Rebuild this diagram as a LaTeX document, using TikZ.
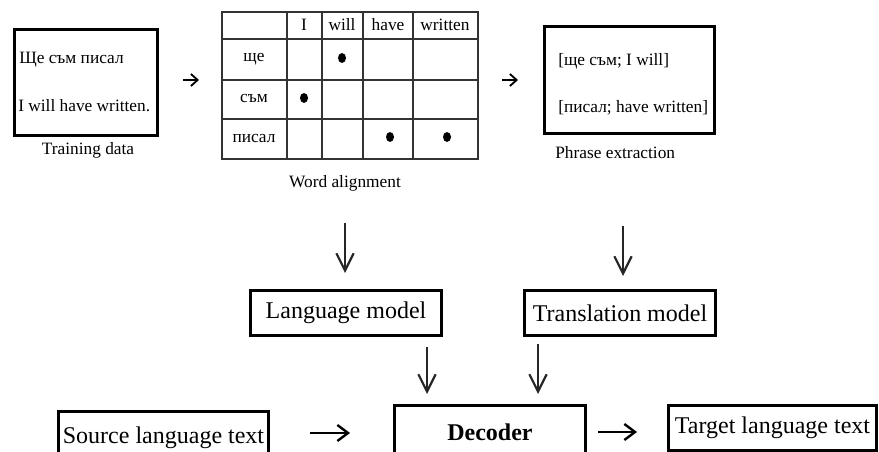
\documentclass[tikz,border=0pt]{standalone}
\usepackage{fontspec}
\setmainfont{Liberation Serif}
\usetikzlibrary{arrows.meta}
\begin{document}
\begin{tikzpicture}[x=0.75pt,y=-0.75pt,
  thickbox/.style={draw=black, line width=2.6pt, fill=white, inner sep=0pt},
  midbox/.style={draw=black, line width=2pt, fill=white, inner sep=0pt},
  small/.style={font=\fontsize{13}{15}\selectfont, inner sep=0pt},
  big/.style={font=\fontsize{18}{21}\selectfont, inner sep=0pt},
  grid/.style={draw=black!80, line width=1.3pt},
  dot/.style={fill=black, ellipse=none, inner sep=0pt},
  tinyarr/.style={line width=2pt, -{Straight Barb[length=5pt,width=9pt,line width=1.4pt]}},
  downarr/.style={line width=1.8pt, draw=black!85, -{Straight Barb[length=13pt,width=13pt,line width=1.6pt]}},
  horarr/.style={line width=2.2pt, -{Straight Barb[length=8pt,width=12pt,line width=1.8pt]}}
]
\useasboundingbox (0,0) rectangle (879,452);
\clip (0,0) rectangle (879,452);
\fill[white] (0,0) rectangle (879,452);

% Training data
\node[thickbox, minimum width=107.25pt, minimum height=79.5pt] (train) at (86,82.5) {};
\node[small, anchor=west] (train1) at (19,60) {Ще съм писал};
\node[small, anchor=west] (train2) at (18,106) {I will have written.};
\node[small] (trainlbl) at (88,150) {Training data};

% arrow 1
\coordinate (a1s) at (183,80);
\coordinate (a1e) at (199,80);
\draw[tinyarr] (a1s) -- (a1e);

% Table
\node[grid, minimum width=192pt, minimum height=110.25pt, inner sep=0pt] (tbl) at (350,85.5) {};
\foreach \xx in {287,322,363,413} \draw[grid] (\xx,12) -- (\xx,159);
\foreach \yy in {39,80,119} \draw[grid] (222,\yy) -- (478,\yy);
\node[small] (hI) at (304,25) {I};
\node[small] (hwill) at (342,25) {will};
\node[small] (hhave) at (388,25) {have};
\node[small] (hwritten) at (445,25) {written};
\node[small] (rshche) at (254,59) {ще};
\node[small] (rsam) at (254,99) {съм};
\node[small] (rpisal) at (254,139) {писал};
\fill (342,58) ellipse [x radius=4, y radius=5];
\fill (304,98) ellipse [x radius=4, y radius=5];
\fill (390,137) ellipse [x radius=4, y radius=5];
\fill (447,137) ellipse [x radius=4, y radius=5];
\node[small] (walbl) at (345,183) {Word alignment};

% arrow 2
\coordinate (a2s) at (502,80);
\coordinate (a2e) at (518,80);
\draw[tinyarr] (a2s) -- (a2e);

% Phrase extraction
\node[thickbox, minimum width=127.5pt, minimum height=80.25pt] (phr) at (629.5,80) {};
\node[small, anchor=west] (phr1) at (558,61) {[ще съм; I will]};
\node[small, anchor=west] (phr2) at (558,108) {[писал; have written]};
\node[small, anchor=west] (phrlbl) at (555,153) {Phrase extraction};

% down arrows
\coordinate (d1s) at (345,223);
\coordinate (d1e) at (345,273);
\draw[downarr] (d1s) -- (d1e);
\coordinate (d2s) at (623,226);
\coordinate (d2e) at (623,276);
\draw[downarr] (d2s) -- (d2e);

% models
\node[thickbox, big, minimum width=143.25pt, minimum height=33.75pt] (lm) at (346,313) {Language model};
\node[thickbox, big, minimum width=143.25pt, minimum height=33.75pt] (tm) at (620,313) {Translation model};

\coordinate (d3s) at (427,347);
\coordinate (d3e) at (427,394);
\draw[downarr] (d3s) -- (d3e);
\coordinate (d4s) at (538,344);
\coordinate (d4e) at (538,394);
\draw[downarr] (d4s) -- (d4e);

% bottom row
\node[thickbox, big, minimum width=157.5pt, minimum height=40pt] (src) at (163.5,438) {Source language text};
\node[thickbox, big, minimum width=143.25pt, minimum height=40pt] (dec) at (490,432) {\textbf{Decoder}};
\node[midbox, big, minimum width=156pt, minimum height=34pt] (tgt) at (772.5,428) {Target language text};

\coordinate (h1s) at (310,433);
\coordinate (h1e) at (350,433);
\draw[horarr] (h1s) -- (h1e);
\coordinate (h2s) at (598,432);
\coordinate (h2e) at (637,432);
\draw[horarr] (h2s) -- (h2e);
\end{tikzpicture}
\end{document}
